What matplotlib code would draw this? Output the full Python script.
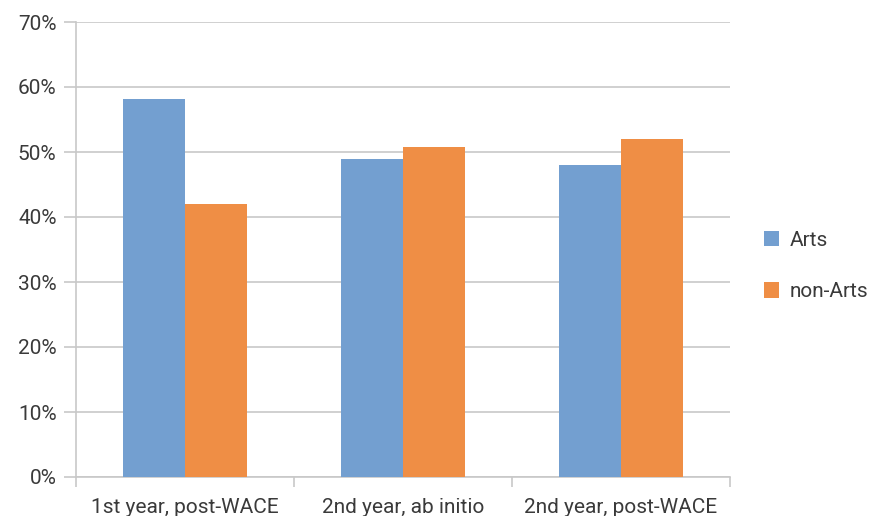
import matplotlib
matplotlib.use("Agg")
import matplotlib.pyplot as plt
import numpy as np

categories = ["1st year, post-WACE", "2nd year, ab initio", "2nd year, post-WACE"]
arts = [58.2, 49.0, 48.0]
non_arts = [42.0, 50.8, 52.0]
series_names = ["Arts", "non-Arts"]
y_ticks = [0, 10, 20, 30, 40, 50, 60, 70]

plt.rcParams['font.family'] = ['Roboto', 'DejaVu Sans']
txt = '#3a3a3a'
grid = '#c8c8c8'
fs = 15

fig = plt.figure(figsize=(8.73, 5.16), dpi=100)
ax = fig.add_axes([76/873, 1-477/516, (730-76)/873, (477-22)/516])

x = np.arange(len(categories))
w = 0.285
ax.bar(x - w/2, arts, w, color='#739fd0', label=series_names[0], zorder=3)
ax.bar(x + w/2, non_arts, w, color='#ef8e45', label=series_names[1], zorder=3)

ax.set_xlim(-0.5, len(categories) - 0.5)
ax.set_ylim(0, 70)
ax.set_yticks(y_ticks)
ax.set_yticklabels([f"{v}%" for v in y_ticks], fontsize=fs, color=txt)
ax.yaxis.grid(True, color=grid, linewidth=1.2, zorder=0)
ax.tick_params(axis='y', length=9, color=grid, width=1.2, pad=5)

ax.set_xticks(x)
ax.set_xticklabels(categories, fontsize=fs, color=txt)
ax.tick_params(axis='x', length=0, pad=15)
ax.set_xticks(np.arange(len(categories) + 1) - 0.5, minor=True)
ax.tick_params(axis='x', which='minor', length=7, color=grid, width=1.2)

for s in ['top', 'right']:
    ax.spines[s].set_visible(False)
for s in ['left', 'bottom']:
    ax.spines[s].set_color(grid)
    ax.spines[s].set_linewidth(1.2)

leg = fig.legend(loc='center left', bbox_to_anchor=(749/873, 1-266/516), frameon=False,
                 fontsize=fs, handlelength=0.75, handleheight=0.75, labelspacing=1.55,
                 handletextpad=0.5, borderpad=0.2)
for t in leg.get_texts():
    t.set_color(txt)

fig.savefig("out.png", dpi=100)
